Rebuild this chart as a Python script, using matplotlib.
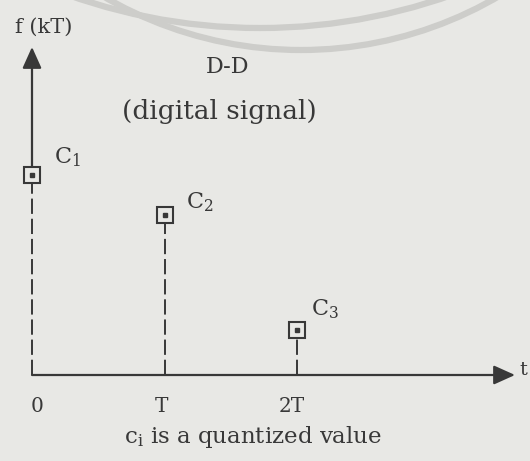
import matplotlib
matplotlib.use("Agg")
import matplotlib.pyplot as plt
from matplotlib.patches import Arc

# sample instants (in units of T) and quantized sample values
sample_times = [0, 1, 2]
sample_values = [4.0, 3.2, 0.9]
sample_labels = [r"$\mathrm{C}_{\mathrm{1}}$", r"$\mathrm{C}_{\mathrm{2}}$", r"$\mathrm{C}_{\mathrm{3}}$"]
tick_positions = [0, 1, 2]
tick_labels = ["0", "T", "2T"]

# label offsets (pixels) from each sample marker / tick position
label_offsets = [(22, 18), (21, 13), (14, 21)]
tick_shifts = [5, -3, -5]

plt.rcParams["font.family"] = ["DejaVu Serif"]
plt.rcParams["mathtext.fontset"] = "dejavuserif"
plt.rcParams["lines.scale_dashes"] = False

W, H, DPI = 530, 461, 100
bg = "#e8e8e5"
ink = "#383838"

fig = plt.figure(figsize=(W / DPI, H / DPI), dpi=DPI, facecolor=bg)

# background layer in pixel units for the faint stamp arcs
bg_ax = fig.add_axes([0, 0, 1, 1])
bg_ax.set_xlim(0, W)
bg_ax.set_ylim(H, 0)
bg_ax.axis("off")
bg_ax.add_patch(Arc((260, -546), 2 * 574, 2 * 574, theta1=0, theta2=180,
                    lw=4.5, color="#cdcdca"))
bg_ax.add_patch(Arc((301, -341), 2 * 391, 2 * 391, theta1=0, theta2=180,
                    lw=4.5, color="#cdcdca"))

# main axes: 132.5 px per T, 50 px per value unit, origin at (32, 375) px
ax = fig.add_axes([0, 0, 1, 1], facecolor="none")
x0_px, y0_px, sx, sy = 32, 375, 132.5, 50.0
ax.set_xlim(-x0_px / sx, (W - x0_px) / sx)
ax.set_ylim(-(H - y0_px) / sy, y0_px / sy)
ax.axis("off")

def px_to_data(px, py):
    return (px - x0_px) / sx, (y0_px - py) / sy

arrow = dict(arrowstyle="-|>,head_length=1.0,head_width=0.45",
             mutation_scale=13, lw=1.6, color=ink, shrinkA=0, shrinkB=0)

# time axis with arrow
x_tip, _ = px_to_data(515, 0)
ax.annotate("", xy=(x_tip, 0), xytext=(0, 0), arrowprops=arrow)
# value axis: solid from the first sample up to the arrow tip
_, y_tip = px_to_data(0, 47)
ax.annotate("", xy=(0, y_tip), xytext=(0, sample_values[0]), arrowprops=arrow)

# dashed stems from the time axis up to each sample
for t, v in zip(sample_times, sample_values):
    ax.plot([t, t], [0, v], color=ink, lw=1.4, linestyle=(0, (11, 3.5)),
            solid_capstyle="butt", dash_capstyle="butt", zorder=2)

# sample markers: open square with a small dot in the centre
ax.plot(sample_times, sample_values, linestyle="none", marker="s",
        markersize=12, markerfacecolor=bg, markeredgecolor=ink,
        markeredgewidth=1.5, zorder=3)
ax.plot(sample_times, sample_values, linestyle="none", marker="s",
        markersize=3.4, markerfacecolor=ink, markeredgecolor=ink, zorder=4)

for t, v, lab, (dx, dy) in zip(sample_times, sample_values, sample_labels, label_offsets):
    ax.annotate(lab, xy=(t, v), xytext=(dx * 72 / DPI, dy * 72 / DPI),
                textcoords="offset points", ha="left", va="center",
                fontsize=16, color=ink)

# tick labels under the time axis
_, y_tick = px_to_data(0, 406)
for t, lab, shift in zip(tick_positions, tick_labels, tick_shifts):
    ax.annotate(lab, xy=(t, y_tick), xytext=(shift * 72 / DPI, 0),
                textcoords="offset points", ha="center", va="center",
                fontsize=14.5, color=ink)

def ptext(px, py, s, **kw):
    fig.text(px / W, 1 - py / H, s, color=ink, **kw)

ptext(519, 370, "t", ha="left", va="center", fontsize=14)
ptext(44, 27, "f (kT)", ha="center", va="center", fontsize=15)
ptext(228, 67, "D-D", ha="center", va="center", fontsize=16)
ptext(219, 111, "(digital signal)", ha="center", va="center", fontsize=19)
ptext(253, 437, r"c$_{\mathrm{i}}$ is a quantized value", ha="center",
      va="center", fontsize=16.5)

fig.savefig("out.png", dpi=DPI, facecolor=bg)
